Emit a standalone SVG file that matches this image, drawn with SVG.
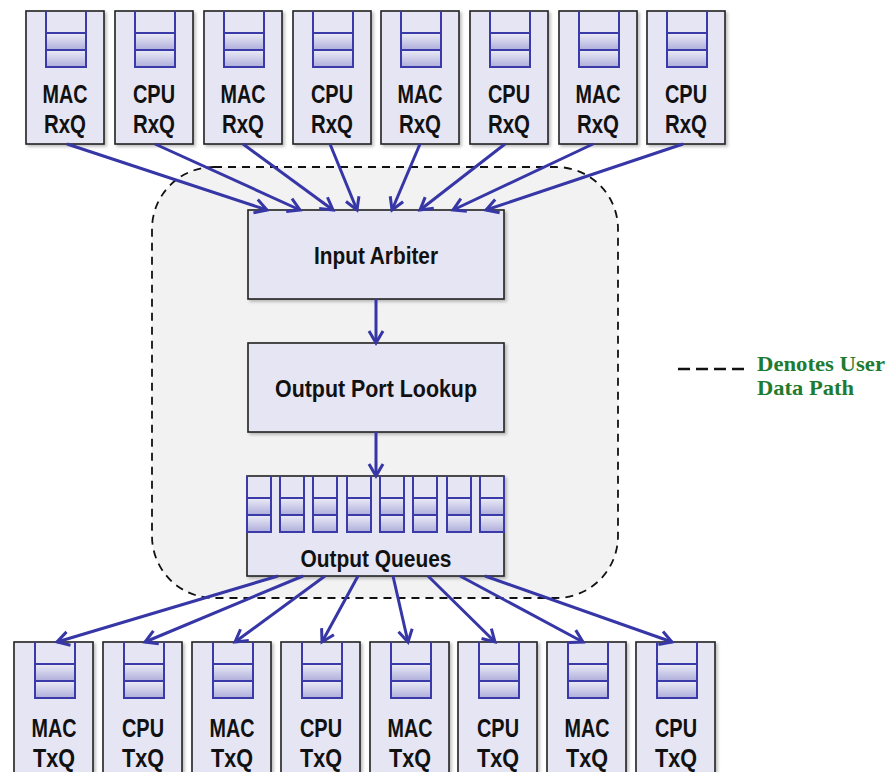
<svg xmlns="http://www.w3.org/2000/svg" width="889" height="772" viewBox="0 0 889 772">
  <defs>
    <linearGradient id="cellFill" x1="0" y1="0" x2="0" y2="1">
      <stop offset="0" stop-color="#ececf7"/>
      <stop offset="1" stop-color="#aeaedb"/>
    </linearGradient>
    <filter id="shadow" x="-10%" y="-10%" width="130%" height="130%">
      <feDropShadow dx="2" dy="2" stdDeviation="1.5" flood-color="#000" flood-opacity="0.25"/>
    </filter>
    <marker id="arrow" markerUnits="userSpaceOnUse" markerWidth="20" markerHeight="20" refX="13" refY="7" orient="auto" overflow="visible">
      <path d="M1,0 L13,7 L1,14" fill="none" stroke="#3636a6" stroke-width="3" stroke-linejoin="miter"/>
    </marker>
    <!-- queue icon: open-topped stack with three slots, the lower two shaded -->
    <g id="queue">
      <rect x="0" y="22" width="40" height="17" fill="url(#cellFill)"/>
      <rect x="0" y="39" width="40" height="17" fill="url(#cellFill)"/>
      <path d="M0,0 V56 H40 V0 M0,22 H40 M0,39 H40" fill="none" stroke="#3a3aa8" stroke-width="2"/>
    </g>
    <g id="queueSmall">
      <rect x="0" y="22" width="24" height="17" fill="url(#cellFill)"/>
      <rect x="0" y="39" width="24" height="17" fill="url(#cellFill)"/>
      <path d="M0,0 V56 H24 V0 M0,22 H24 M0,39 H24" fill="none" stroke="#3a3aa8" stroke-width="2"/>
    </g>
  </defs>
  <style>
    .box { fill: #e5e5f3; stroke: #222; stroke-width: 1.6; filter: url(#shadow); }
    .lbl { font-family: "Liberation Sans", Arial, sans-serif; font-weight: bold; font-size: 25px; fill: #111; text-anchor: middle; }
    .blk { font-family: "Liberation Sans", Arial, sans-serif; font-weight: bold; font-size: 23px; fill: #111; text-anchor: middle; }
    .conn { fill: none; stroke: #3636a6; stroke-width: 3; marker-end: url(#arrow); }
    .legend { font-family: "Liberation Serif", "Times New Roman", serif; font-weight: bold; font-size: 21px; fill: #1e7b30; }
  </style>

  <rect width="889" height="772" fill="#fff"/>

  <!-- user data path region -->
  <rect id="user-data-path" x="152" y="167" width="466" height="431" rx="62" ry="62" fill="#f2f2f2" stroke="#111" stroke-width="1.8" stroke-dasharray="8 6"/>

  <!-- receive queues -->
  <g id="rxq-1"><rect class="box" x="26" y="11" width="78" height="133"/><use href="#queue" x="46" y="11"/><text class="lbl" x="65" y="103" textLength="45" lengthAdjust="spacingAndGlyphs">MAC</text><text class="lbl" x="65" y="133" textLength="42" lengthAdjust="spacingAndGlyphs">RxQ</text></g>
  <g id="rxq-2"><rect class="box" x="115" y="11" width="78" height="133"/><use href="#queue" x="135" y="11"/><text class="lbl" x="154" y="103" textLength="42" lengthAdjust="spacingAndGlyphs">CPU</text><text class="lbl" x="154" y="133" textLength="42" lengthAdjust="spacingAndGlyphs">RxQ</text></g>
  <g id="rxq-3"><rect class="box" x="204" y="11" width="78" height="133"/><use href="#queue" x="224" y="11"/><text class="lbl" x="243" y="103" textLength="45" lengthAdjust="spacingAndGlyphs">MAC</text><text class="lbl" x="243" y="133" textLength="42" lengthAdjust="spacingAndGlyphs">RxQ</text></g>
  <g id="rxq-4"><rect class="box" x="293" y="11" width="78" height="133"/><use href="#queue" x="313" y="11"/><text class="lbl" x="332" y="103" textLength="42" lengthAdjust="spacingAndGlyphs">CPU</text><text class="lbl" x="332" y="133" textLength="42" lengthAdjust="spacingAndGlyphs">RxQ</text></g>
  <g id="rxq-5"><rect class="box" x="381" y="11" width="78" height="133"/><use href="#queue" x="401" y="11"/><text class="lbl" x="420" y="103" textLength="45" lengthAdjust="spacingAndGlyphs">MAC</text><text class="lbl" x="420" y="133" textLength="42" lengthAdjust="spacingAndGlyphs">RxQ</text></g>
  <g id="rxq-6"><rect class="box" x="470" y="11" width="78" height="133"/><use href="#queue" x="490" y="11"/><text class="lbl" x="509" y="103" textLength="42" lengthAdjust="spacingAndGlyphs">CPU</text><text class="lbl" x="509" y="133" textLength="42" lengthAdjust="spacingAndGlyphs">RxQ</text></g>
  <g id="rxq-7"><rect class="box" x="559" y="11" width="78" height="133"/><use href="#queue" x="579" y="11"/><text class="lbl" x="598" y="103" textLength="45" lengthAdjust="spacingAndGlyphs">MAC</text><text class="lbl" x="598" y="133" textLength="42" lengthAdjust="spacingAndGlyphs">RxQ</text></g>
  <g id="rxq-8"><rect class="box" x="647" y="11" width="78" height="133"/><use href="#queue" x="667" y="11"/><text class="lbl" x="686" y="103" textLength="42" lengthAdjust="spacingAndGlyphs">CPU</text><text class="lbl" x="686" y="133" textLength="42" lengthAdjust="spacingAndGlyphs">RxQ</text></g>

  <!-- pipeline stages -->
  <g id="input-arbiter"><rect class="box" x="248" y="210" width="256" height="89"/><text class="blk" x="376" y="264" textLength="124" lengthAdjust="spacingAndGlyphs">Input Arbiter</text></g>
  <g id="output-port-lookup"><rect class="box" x="248" y="343" width="256" height="89"/><text class="blk" x="376" y="397" textLength="202" lengthAdjust="spacingAndGlyphs">Output Port Lookup</text></g>
  <g id="output-queues"><rect class="box" x="247" y="476" width="257" height="100"/>
    <use href="#queueSmall" x="247" y="476"/><use href="#queueSmall" x="280" y="476"/><use href="#queueSmall" x="313" y="476"/><use href="#queueSmall" x="347" y="476"/>
    <use href="#queueSmall" x="380" y="476"/><use href="#queueSmall" x="413" y="476"/><use href="#queueSmall" x="447" y="476"/><use href="#queueSmall" x="480" y="476"/>
    <text class="blk" x="376" y="567" textLength="151" lengthAdjust="spacingAndGlyphs">Output Queues</text></g>

  <!-- transmit queues -->
  <g id="txq-1"><rect class="box" x="14" y="642" width="79" height="140"/><use href="#queue" x="35" y="642"/><text class="lbl" x="54" y="737" textLength="45" lengthAdjust="spacingAndGlyphs">MAC</text><text class="lbl" x="54" y="767" textLength="42" lengthAdjust="spacingAndGlyphs">TxQ</text></g>
  <g id="txq-2"><rect class="box" x="103" y="642" width="79" height="140"/><use href="#queue" x="124" y="642"/><text class="lbl" x="143" y="737" textLength="42" lengthAdjust="spacingAndGlyphs">CPU</text><text class="lbl" x="143" y="767" textLength="42" lengthAdjust="spacingAndGlyphs">TxQ</text></g>
  <g id="txq-3"><rect class="box" x="192" y="642" width="79" height="140"/><use href="#queue" x="213" y="642"/><text class="lbl" x="232" y="737" textLength="45" lengthAdjust="spacingAndGlyphs">MAC</text><text class="lbl" x="232" y="767" textLength="42" lengthAdjust="spacingAndGlyphs">TxQ</text></g>
  <g id="txq-4"><rect class="box" x="281" y="642" width="79" height="140"/><use href="#queue" x="302" y="642"/><text class="lbl" x="321" y="737" textLength="42" lengthAdjust="spacingAndGlyphs">CPU</text><text class="lbl" x="321" y="767" textLength="42" lengthAdjust="spacingAndGlyphs">TxQ</text></g>
  <g id="txq-5"><rect class="box" x="370" y="642" width="79" height="140"/><use href="#queue" x="391" y="642"/><text class="lbl" x="410" y="737" textLength="45" lengthAdjust="spacingAndGlyphs">MAC</text><text class="lbl" x="410" y="767" textLength="42" lengthAdjust="spacingAndGlyphs">TxQ</text></g>
  <g id="txq-6"><rect class="box" x="458" y="642" width="79" height="140"/><use href="#queue" x="479" y="642"/><text class="lbl" x="498" y="737" textLength="42" lengthAdjust="spacingAndGlyphs">CPU</text><text class="lbl" x="498" y="767" textLength="42" lengthAdjust="spacingAndGlyphs">TxQ</text></g>
  <g id="txq-7"><rect class="box" x="547" y="642" width="79" height="140"/><use href="#queue" x="568" y="642"/><text class="lbl" x="587" y="737" textLength="45" lengthAdjust="spacingAndGlyphs">MAC</text><text class="lbl" x="587" y="767" textLength="42" lengthAdjust="spacingAndGlyphs">TxQ</text></g>
  <g id="txq-8"><rect class="box" x="636" y="642" width="79" height="140"/><use href="#queue" x="657" y="642"/><text class="lbl" x="676" y="737" textLength="42" lengthAdjust="spacingAndGlyphs">CPU</text><text class="lbl" x="676" y="767" textLength="42" lengthAdjust="spacingAndGlyphs">TxQ</text></g>

  <!-- connectors -->
  <g id="connectors">
    <line class="conn" x1="67" y1="144" x2="267" y2="210"/>
    <line class="conn" x1="155" y1="144" x2="300" y2="210"/>
    <line class="conn" x1="243" y1="144" x2="333" y2="210"/>
    <line class="conn" x1="330" y1="144" x2="357" y2="210"/>
    <line class="conn" x1="420" y1="144" x2="392" y2="210"/>
    <line class="conn" x1="505" y1="144" x2="420" y2="210"/>
    <line class="conn" x1="593" y1="144" x2="453" y2="210"/>
    <line class="conn" x1="683" y1="144" x2="486" y2="210"/>
    <line class="conn" x1="376" y1="299" x2="376" y2="343"/>
    <line class="conn" x1="376" y1="432" x2="376" y2="476"/>
    <line class="conn" x1="278" y1="576" x2="57" y2="642"/>
    <line class="conn" x1="303" y1="576" x2="145" y2="642"/>
    <line class="conn" x1="325" y1="576" x2="235" y2="642"/>
    <line class="conn" x1="358" y1="576" x2="322" y2="642"/>
    <line class="conn" x1="393" y1="576" x2="408" y2="642"/>
    <line class="conn" x1="428" y1="576" x2="495" y2="642"/>
    <line class="conn" x1="460" y1="576" x2="583" y2="642"/>
    <line class="conn" x1="485" y1="576" x2="672" y2="642"/>
  </g>

  <!-- legend -->
  <g id="legend">
    <line x1="678" y1="369" x2="745" y2="369" stroke="#111" stroke-width="2.5" stroke-dasharray="12 6"/>
    <text class="legend" x="757" y="371" textLength="128" lengthAdjust="spacingAndGlyphs">Denotes User</text>
    <text class="legend" x="757" y="395" textLength="97" lengthAdjust="spacingAndGlyphs">Data Path</text>
  </g>
</svg>
